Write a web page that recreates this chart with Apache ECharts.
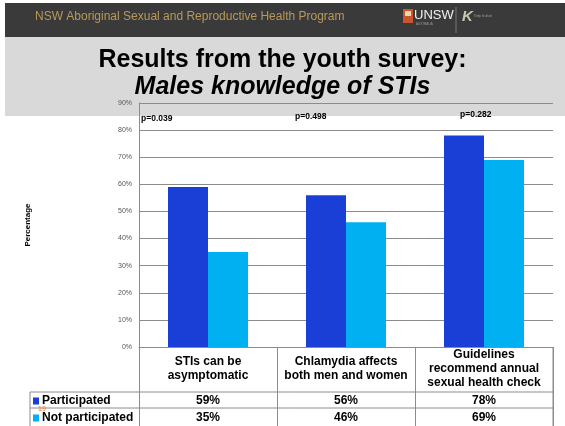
<!DOCTYPE html>
<html>
<head>
<meta charset="utf-8">
<title>Males knowledge of STIs</title>
<script src="https://cdn.jsdelivr.net/npm/echarts@6/dist/echarts.min.js"></script>
<style>
  html, body { margin: 0; padding: 0; background: #ffffff; }
  #chart { width: 565px; height: 426px; }
</style>
</head>
<body>
<div id="chart"></div>
<script>
// Survey results: share of young males answering each STI knowledge item correctly
const categories = [
  'STIs can be\nasymptomatic',
  'Chlamydia affects\nboth men and women',
  'Guidelines\nrecommend annual\nsexual health check'
];
const participated = [59, 56, 78];
const notParticipated = [35, 46, 69];
const pValues = ['p=0.039', 'p=0.498', 'p=0.282'];
const seriesNames = ['Participated', 'Not participated'];
const yTicks = { min: 0, max: 90, step: 10 };

const FONT = "'Liberation Sans', Arial, Helvetica, sans-serif";
const DARK_BLUE = '#1a3fd7';
const LIGHT_BLUE = '#00b0f0';
const GRID_GREY = '#8c8c8c';

const chart = echarts.init(document.getElementById('chart'), null, { renderer: 'canvas' });

// p-value annotations sit at the top of each category column
const pLabelPos = [[141, 119], [295, 117], [460, 115]];

const graphics = [
  // slide header strip
  { type: 'rect', z: -20, shape: { x: 5, y: 3, width: 560, height: 34 }, style: { fill: '#3a3a3a' } },
  { type: 'text', z: -19, left: 35, top: 11,
    style: { text: 'NSW Aboriginal Sexual and Reproductive Health Program', fill: '#b9995a', font: '12px ' + FONT } },
  // university crest + wordmark
  { type: 'rect', z: -19, shape: { x: 403, y: 9, width: 10, height: 14 }, style: { fill: '#c8562f' } },
  { type: 'rect', z: -19, shape: { x: 405, y: 11, width: 6, height: 5 }, style: { fill: '#f0d9a8' } },
  { type: 'text', z: -19, left: 414, top: 9,
    style: { text: 'UNSW', fill: '#f2f2f2', font: '13px ' + FONT } },
  { type: 'text', z: -19, left: 416, top: 23,
    style: { text: 'AUSTRALIA', fill: '#9a9a9a', font: '3px ' + FONT } },
  { type: 'line', z: -19, shape: { x1: 456, y1: 7, x2: 456, y2: 33 }, style: { stroke: '#777', lineWidth: 1 } },
  { type: 'text', z: -19, left: 462, top: 9,
    style: { text: 'K', fill: '#c8c8b0', font: 'bold italic 15px ' + FONT } },
  { type: 'text', z: -19, left: 474, top: 15,
    style: { text: 'Kirby Institute', fill: '#a0a090', font: '3px ' + FONT } },
  // title band
  { type: 'rect', z: -20, shape: { x: 5, y: 37, width: 560, height: 79 }, style: { fill: '#d9d9d9' } },
  { type: 'text', z: -19, left: 'center', top: 48,
    style: { text: 'Results from the youth survey:', fill: '#000', font: 'bold 25px ' + FONT, textAlign: 'center' } },
  { type: 'text', z: -19, left: 'center', top: 75,
    style: { text: 'Males knowledge of STIs', fill: '#000', font: 'bold italic 25px ' + FONT, textAlign: 'center' } },
  // data table rules
  { type: 'line', z: 5, shape: { x1: 30, y1: 392, x2: 553, y2: 392 }, style: { stroke: GRID_GREY, lineWidth: 1 } },
  { type: 'line', z: 5, shape: { x1: 30, y1: 408, x2: 553, y2: 408 }, style: { stroke: GRID_GREY, lineWidth: 1 } },
  { type: 'line', z: 5, shape: { x1: 30, y1: 392, x2: 30, y2: 426 }, style: { stroke: GRID_GREY, lineWidth: 1 } },
  { type: 'line', z: 5, shape: { x1: 553, y1: 347, x2: 553, y2: 426 }, style: { stroke: GRID_GREY, lineWidth: 1 } },
  // slide number
  { type: 'text', z: 6, left: 38, top: 406,
    style: { text: '19', fill: '#e8762c', font: '7px ' + FONT } }
];

pValues.forEach((p, i) => {
  graphics.push({
    type: 'text', z: 5, left: pLabelPos[i][0], top: pLabelPos[i][1] - 5,
    style: { text: p, fill: '#000', font: 'bold 8.5px ' + FONT }
  });
});

const tableLabel = (margin) => ({
  interval: 0,
  margin: margin,
  verticalAlign: 'middle',
  color: '#000',
  fontFamily: FONT,
  fontWeight: 'bold',
  fontSize: 12
});

// one legend block per table row, so each key lines up with its row
const legendRow = (name, top) => ({
  orient: 'vertical',
  left: 33,
  top: top,
  padding: 0,
  itemWidth: 6,
  itemHeight: 7,
  icon: 'rect',
  data: [name],
  textStyle: { color: '#000', fontFamily: FONT, fontWeight: 'bold', fontSize: 12, lineHeight: 14, padding: [0, 0, 0, -2] }
});

const option = {
  backgroundColor: '#ffffff',
  animation: false,
  graphic: graphics,
  grid: { left: 139, right: 12, top: 103, bottom: 79, containLabel: false },
  legend: [legendRow(seriesNames[0], 394), legendRow(seriesNames[1], 411)],
  xAxis: [
    {
      type: 'category',
      position: 'bottom',
      data: categories,
      axisLine: { show: true, lineStyle: { color: GRID_GREY, width: 1 } },
      axisTick: { show: true, length: 79, interval: 0, lineStyle: { color: GRID_GREY, width: 1 } },
      axisLabel: Object.assign(tableLabel(22), { lineHeight: 14 })
    },
    {
      type: 'category',
      position: 'bottom',
      data: participated.map(v => v + '%'),
      axisLine: { show: false },
      axisTick: { show: false },
      axisLabel: tableLabel(54)
    },
    {
      type: 'category',
      position: 'bottom',
      data: notParticipated.map(v => v + '%'),
      axisLine: { show: false },
      axisTick: { show: false },
      axisLabel: tableLabel(71)
    }
  ],
  yAxis: {
    type: 'value',
    min: yTicks.min,
    max: yTicks.max,
    interval: yTicks.step,
    name: 'Percentage',
    nameLocation: 'middle',
    nameGap: 107,
    nameRotate: 90,
    nameTextStyle: { color: '#000', fontFamily: FONT, fontWeight: 'bold', fontSize: 8 },
    axisLine: { show: true, lineStyle: { color: GRID_GREY, width: 1 } },
    axisTick: { show: false },
    axisLabel: { formatter: '{value}%', color: '#555', fontFamily: FONT, fontSize: 7, margin: 7 },
    splitLine: { show: true, lineStyle: { color: GRID_GREY, width: 1 } }
  },
  series: [
    {
      name: seriesNames[0],
      type: 'bar',
      xAxisIndex: 0,
      data: participated,
      barWidth: 40,
      barGap: '0%',
      itemStyle: { color: DARK_BLUE }
    },
    {
      name: seriesNames[1],
      type: 'bar',
      xAxisIndex: 0,
      data: notParticipated,
      barWidth: 40,
      barGap: '0%',
      itemStyle: { color: LIGHT_BLUE }
    }
  ]
};

chart.setOption(option);
</script>
</body>
</html>
